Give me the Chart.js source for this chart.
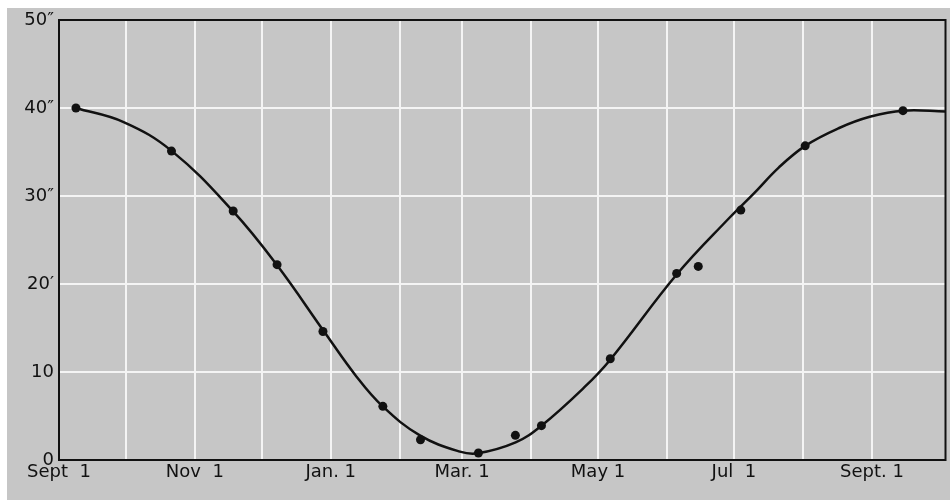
<!DOCTYPE html>
<html>
<head>
<meta charset="utf-8">
<script src="https://cdn.jsdelivr.net/npm/chart.js@4/dist/chart.umd.min.js"></script>
<style>
  html, body { margin: 0; padding: 0; background: #fff; }
  #wrap { width: 950px; height: 500px; position: relative; }
</style>
</head>
<body>
<div id="wrap"><canvas id="chart"></canvas></div>
<script>
// x values are days counted from Sept 1
const monthDays = [0, 30, 61, 91, 122, 153, 181, 212, 242, 273, 303, 334, 365];
const monthLabels = ['Sept  1', '', 'Nov  1', '', 'Jan. 1', '', 'Mar. 1', '', 'May 1', '', 'Jul  1', '', 'Sept. 1'];
const yTicks = [0, 10, 20, 30, 40, 50];
const yLabels = ['0', '10', '20\u2032', '30\u2033', '40\u2033', '50\u2033'];

// observed points
const obsDays = [7.6, 50.5, 78.2, 97.9, 118.5, 145.4, 162.3, 188.3, 204.9, 216.6, 247.5, 277.3, 287.0, 306.1, 335.0, 378.9];
const obsValues = [40.0, 35.1, 28.3, 22.2, 14.6, 6.1, 2.3, 0.8, 2.8, 3.9, 11.5, 21.2, 22.0, 28.4, 35.7, 39.7];

// fitted curve
const curveDays = [7.6, 29, 50.7, 78, 98, 119, 133.5, 145.3, 162, 180, 188, 205, 216.6, 236, 247.5, 277.4, 300.9, 312, 323, 335, 350, 364, 379, 398];
const curveValues = [40.0, 38.4, 35.1, 28.3, 22.1, 14.6, 9.5, 6.1, 2.8, 0.95, 0.76, 2.0, 3.9, 8.3, 11.4, 21.1, 27.5, 30.3, 33.2, 35.7, 37.7, 39.0, 39.7, 39.6];

const toXY = (xs, ys) => xs.map((x, i) => ({ x, y: ys[i] }));

const paper = {
  id: 'paper',
  beforeDraw(chart) {
    const { ctx } = chart;
    ctx.save();
    ctx.fillStyle = '#c6c6c6';
    ctx.fillRect(7, 8, chart.width - 7, chart.height - 8);
    ctx.restore();
  },
  afterDatasetsDraw(chart) {
    const { ctx, chartArea: a } = chart;
    ctx.save();
    ctx.strokeStyle = '#111';
    ctx.lineWidth = 2;
    ctx.strokeRect(a.left, a.top, a.right - a.left, a.bottom - a.top);
    ctx.restore();
  }
};

new Chart(document.getElementById('chart'), {
  type: 'scatter',
  data: {
    datasets: [
      {
        data: toXY(curveDays, curveValues),
        showLine: true,
        borderColor: '#111',
        borderWidth: 2.5,
        pointRadius: 0,
        tension: 0.4,
      },
      {
        data: toXY(obsDays, obsValues),
        showLine: false,
        pointRadius: 4.5,
        pointBackgroundColor: '#111',
        pointBorderColor: '#111',
        pointBorderWidth: 0,
      },
    ],
  },
  options: {
    responsive: true,
    maintainAspectRatio: false,
    animation: false,
    layout: { padding: { left: 0, top: 20, right: 4, bottom: 0 } },
    plugins: { legend: { display: false }, tooltip: { enabled: false } },
    scales: {
      x: {
        type: 'linear',
        min: 0,
        max: 398,
        afterBuildTicks: s => { s.ticks = monthDays.map(v => ({ value: v })); },
        afterFit: s => { s.height = 40; },
        ticks: {
          color: '#111',
          font: { family: 'DejaVu Sans', size: 18 },
          padding: 2,
          maxRotation: 0,
          autoSkip: false,
          callback: v => monthLabels[monthDays.indexOf(v)] ?? '',
        },
        grid: { color: '#f4f4f4', lineWidth: 2, drawTicks: false },
        border: { display: false },
      },
      y: {
        min: 0,
        max: 50,
        afterBuildTicks: s => { s.ticks = yTicks.map(v => ({ value: v })); },
        afterFit: s => { s.width = 59; },
        ticks: {
          color: '#111',
          font: { family: 'DejaVu Sans', size: 18 },
          padding: 5,
          callback: v => yLabels[yTicks.indexOf(v)] ?? '',
        },
        grid: { color: '#f4f4f4', lineWidth: 2, drawTicks: false },
        border: { display: false },
      },
    },
  },
  plugins: [paper],
});
</script>
</body>
</html>
